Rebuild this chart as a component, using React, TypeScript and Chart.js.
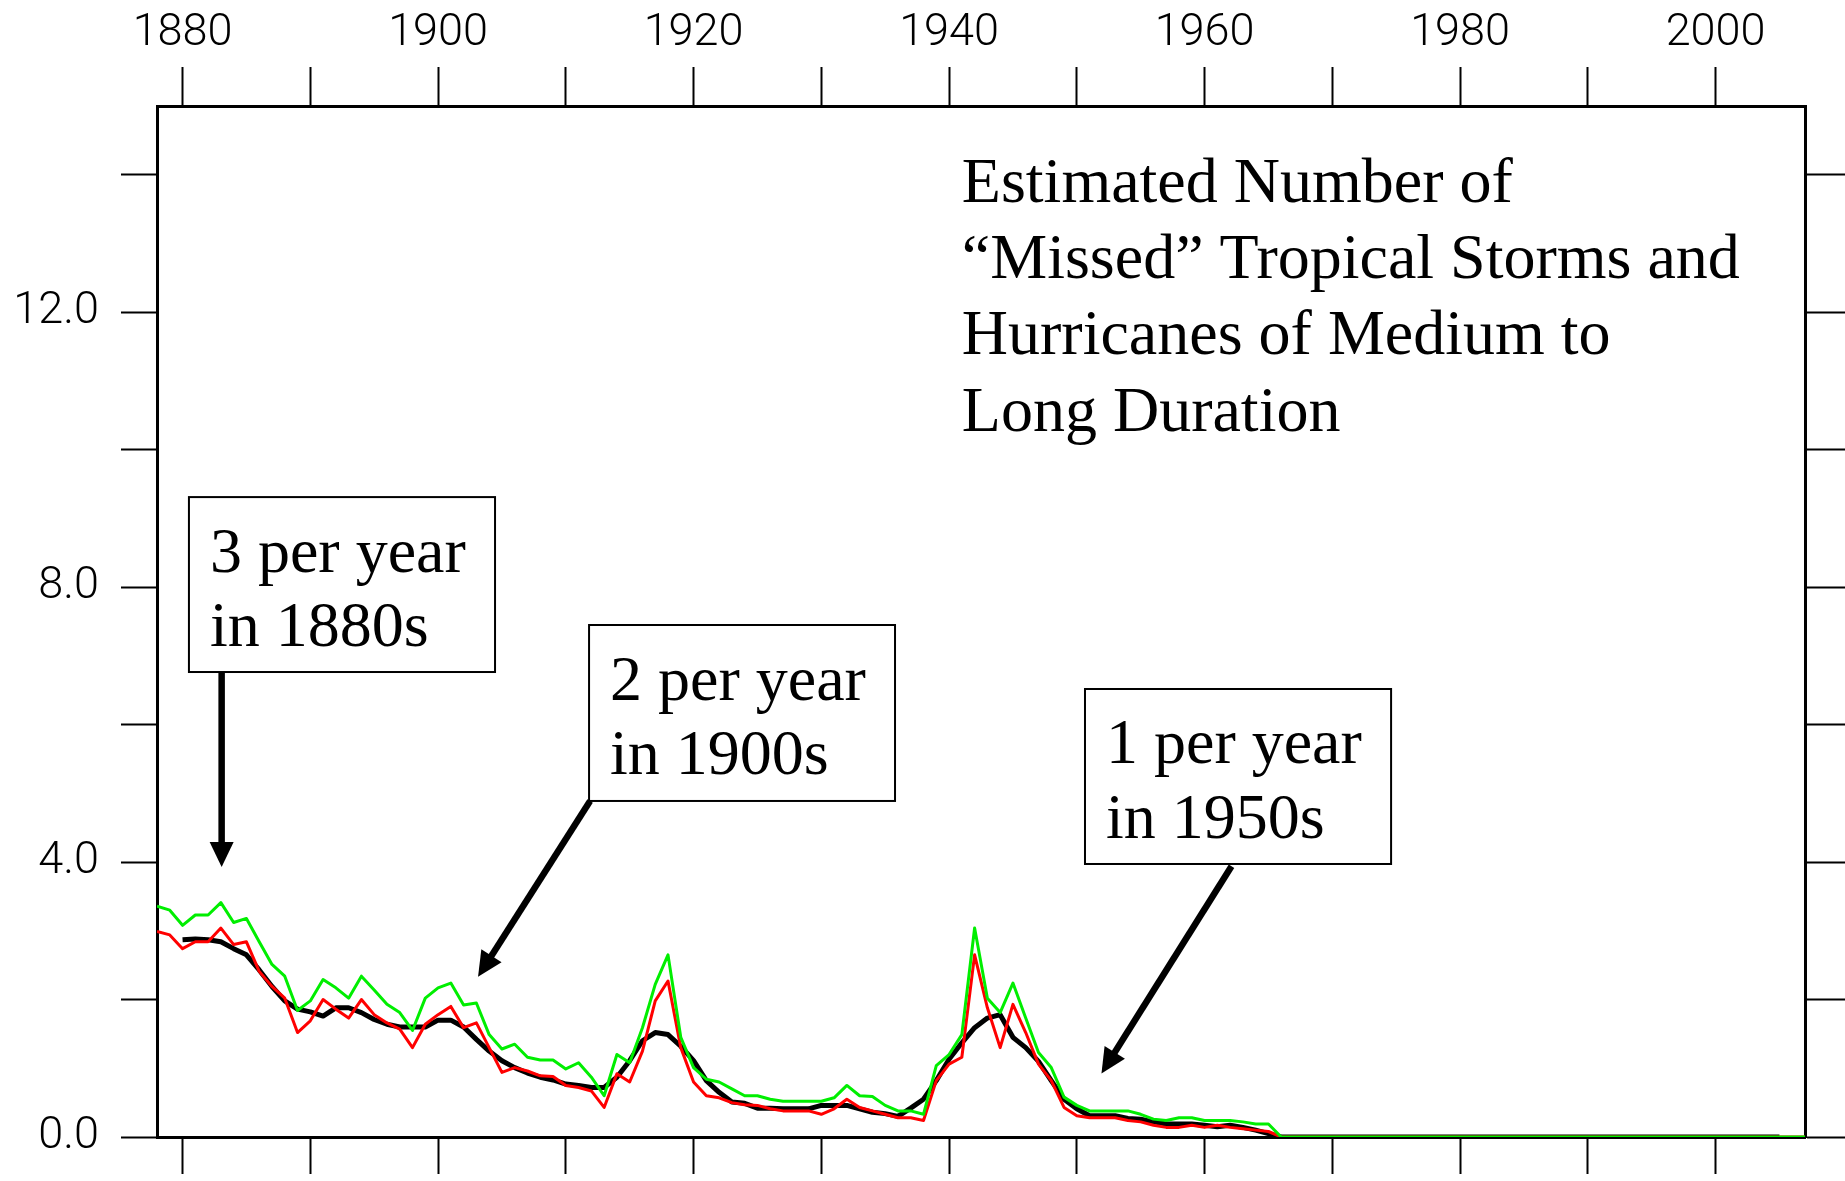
import React, { useEffect, useRef } from 'react';
import { Chart, registerables } from 'chart.js';

Chart.register(...registerables);

// ---------------- data ----------------
const START_YEAR = 1878;
const END_YEAR = 2007;
const YEARS: number[] = Array.from({ length: END_YEAR - START_YEAR + 1 }, (_, i) => START_YEAR + i);

// upper estimate (green), 1878..2007
const UPPER: number[] = [
  3.36, 3.30, 3.08, 3.23, 3.23, 3.41, 3.12, 3.18, 2.84, 2.51,
  2.34, 1.84, 1.98, 2.29, 2.17, 2.02, 2.34, 2.14, 1.93, 1.81,
  1.55, 2.02, 2.17, 2.24, 1.92, 1.95, 1.49, 1.28, 1.35, 1.16,
  1.12, 1.12, 0.99, 1.08, 0.87, 0.60, 1.20, 1.08, 1.59, 2.22,
  2.65, 1.45, 1.01, 0.84, 0.80, 0.70, 0.60, 0.60, 0.55, 0.52,
  0.52, 0.52, 0.52, 0.57, 0.75, 0.60, 0.59, 0.46, 0.38, 0.38,
  0.33, 1.04, 1.20, 1.49, 3.04, 2.02, 1.81, 2.24, 1.73, 1.23,
  1.01, 0.58, 0.46, 0.38, 0.38, 0.38, 0.38, 0.33, 0.26, 0.24,
  0.28, 0.28, 0.24, 0.24, 0.24, 0.22, 0.19, 0.19, 0, 0,
  0, 0, 0, 0, 0, 0, 0, 0, 0, 0,
  0, 0, 0, 0, 0, 0, 0, 0, 0, 0,
  0, 0, 0, 0, 0, 0, 0, 0, 0, 0,
  0, 0, 0, 0, 0, 0, 0, 0, 0, 0,
];

// lower estimate (red), 1878..2007
const LOWER: number[] = [
  2.99, 2.94, 2.74, 2.84, 2.84, 3.04, 2.80, 2.84, 2.41, 2.19,
  2.02, 1.52, 1.69, 2.00, 1.86, 1.73, 2.00, 1.78, 1.66, 1.57,
  1.30, 1.64, 1.78, 1.90, 1.59, 1.66, 1.30, 0.94, 1.01, 0.96,
  0.89, 0.88, 0.75, 0.72, 0.67, 0.43, 0.92, 0.80, 1.25, 1.98,
  2.27, 1.30, 0.80, 0.60, 0.57, 0.50, 0.47, 0.46, 0.41, 0.38,
  0.38, 0.38, 0.33, 0.41, 0.55, 0.43, 0.38, 0.33, 0.28, 0.28,
  0.24, 0.82, 1.06, 1.16, 2.65, 1.88, 1.30, 1.93, 1.52, 1.06,
  0.82, 0.43, 0.31, 0.28, 0.28, 0.28, 0.24, 0.22, 0.17, 0.14,
  0.14, 0.17, 0.14, 0.17, 0.14, 0.12, 0.10, 0.08, 0, 0,
  0, 0, 0, 0, 0, 0, 0, 0, 0, 0,
  0, 0, 0, 0, 0, 0, 0, 0, 0, 0,
  0, 0, 0, 0, 0, 0, 0, 0, 0, 0,
  0, 0, 0, 0, 0, 0, 0, 0, 0, 0,
];

// smoothed best estimate (black), 1878..2007
const SMOOTHED: (number | null)[] = [
  null, null, 2.87, 2.88, 2.87, 2.84, 2.74, 2.65, 2.43, 2.19,
  1.98, 1.86, 1.82, 1.76, 1.88, 1.88, 1.81, 1.71, 1.64, 1.60,
  1.60, 1.60, 1.70, 1.70, 1.60, 1.42, 1.25, 1.11, 1.01, 0.93,
  0.87, 0.83, 0.77, 0.75, 0.72, 0.72, 0.87, 1.11, 1.40, 1.52,
  1.49, 1.32, 1.11, 0.82, 0.65, 0.51, 0.49, 0.42, 0.42, 0.41,
  0.41, 0.41, 0.46, 0.46, 0.46, 0.41, 0.36, 0.34, 0.30, 0.42,
  0.55, 0.82, 1.13, 1.37, 1.59, 1.73, 1.78, 1.45, 1.30, 1.10,
  0.82, 0.55, 0.41, 0.31, 0.31, 0.31, 0.27, 0.26, 0.22, 0.19,
  0.19, 0.19, 0.17, 0.15, 0.17, 0.14, 0.10, 0.05, 0, 0,
  0, 0, 0, 0, 0, 0, 0, 0, 0, 0,
  0, 0, 0, 0, 0, 0, 0, 0, 0, 0,
  0, 0, 0, 0, 0, 0, 0, 0, 0, 0,
  0, 0, 0, 0, 0, 0, 0, 0, null, null,
];

const X_MIN = 1878;
const X_MAX = 2007;
const Y_MIN = 0;
const Y_MAX = 15;
const X_TICKS = [1880, 1890, 1900, 1910, 1920, 1930, 1940, 1950, 1960, 1970, 1980, 1990, 2000];
const X_TICK_LABELS = [1880, 1900, 1920, 1940, 1960, 1980, 2000];
const Y_TICKS = [0, 2, 4, 6, 8, 10, 12, 14];
const Y_TICK_LABELS = [0, 4, 8, 12];

const TITLE_LINES = [
  'Estimated Number of',
  '\u201CMissed\u201D Tropical Storms and',
  'Hurricanes of Medium to',
  'Long Duration',
];
const TITLE_ANCHOR = { x: 1941.0, y: 13.61 };

const CALLOUTS = [
  { lines: ['3 per year', 'in 1880s'], x0: 1880.5, x1: 1904.46, y0: 9.31, y1: 6.765,
    from: { x: 1883.06, y: 6.765 }, to: { x: 1883.06, y: 3.93 } },
  { lines: ['2 per year', 'in 1900s'], x0: 1911.82, x1: 1935.77, y0: 7.449, y1: 4.889,
    from: { x: 1911.9, y: 4.89 }, to: { x: 1903.13, y: 2.33 } },
  { lines: ['1 per year', 'in 1950s'], x0: 1950.64, x1: 1974.6, y0: 6.518, y1: 3.972,
    from: { x: 1962.11, y: 3.94 }, to: { x: 1951.93, y: 0.924 } },
];

const GREEN = '#00ee00';
const RED = '#ff0000';
const BLACK = '#000000';

// ---------------- plugins ----------------
function drawArrow(ctx: CanvasRenderingContext2D, x1: number, y1: number, x2: number, y2: number) {
  const ang = Math.atan2(y2 - y1, x2 - x1);
  const headLen = 25;
  const headHalf = 12;
  const bx = x2 - headLen * Math.cos(ang);
  const by = y2 - headLen * Math.sin(ang);
  ctx.beginPath();
  ctx.moveTo(x1, y1);
  ctx.lineTo(bx + 2 * Math.cos(ang), by + 2 * Math.sin(ang));
  ctx.lineWidth = 6.5;
  ctx.lineCap = 'butt';
  ctx.strokeStyle = '#000';
  ctx.stroke();
  ctx.beginPath();
  ctx.moveTo(x2, y2);
  ctx.lineTo(bx + headHalf * Math.sin(ang), by - headHalf * Math.cos(ang));
  ctx.lineTo(bx - headHalf * Math.sin(ang), by + headHalf * Math.cos(ang));
  ctx.closePath();
  ctx.fillStyle = '#000';
  ctx.fill();
}

const annotationPlugin = {
  id: 'stormAnnotations',
  afterDraw(chart: any) {
    const ctx: CanvasRenderingContext2D = chart.ctx;
    const xs = chart.scales.x;
    const ys = chart.scales.y;
    ctx.save();
    ctx.font = '64px "Liberation Serif", "Times New Roman", serif';
    ctx.textAlign = 'left';
    ctx.textBaseline = 'alphabetic';
    ctx.fillStyle = '#000';
    const tx = xs.getPixelForValue(TITLE_ANCHOR.x);
    const ty = ys.getPixelForValue(TITLE_ANCHOR.y);
    TITLE_LINES.forEach((line, i) => ctx.fillText(line, tx, ty + i * 76.4));

    CALLOUTS.forEach((c) => {
      const l = xs.getPixelForValue(c.x0);
      const r = xs.getPixelForValue(c.x1);
      const t = ys.getPixelForValue(c.y0);
      const b = ys.getPixelForValue(c.y1);
      ctx.fillStyle = '#fff';
      ctx.fillRect(l, t, r - l, b - t);
      ctx.strokeStyle = '#000';
      ctx.lineWidth = 2;
      ctx.strokeRect(l, t, r - l, b - t);
      ctx.fillStyle = '#000';
      ctx.fillText(c.lines[0], l + 21, t + 74.5);
      ctx.fillText(c.lines[1], l + 21, t + 149);
      drawArrow(
        ctx,
        xs.getPixelForValue(c.from.x), ys.getPixelForValue(c.from.y),
        xs.getPixelForValue(c.to.x), ys.getPixelForValue(c.to.y)
      );
    });
    ctx.restore();
  },
};

// fix a scale's thickness and drop label overhang padding so the plot box is exact
const fixSize = (prop: 'width' | 'height', size: number) => (s: any) => {
  s[prop] = size;
  s.paddingTop = 0;
  s.paddingBottom = 0;
  s.paddingLeft = 0;
  s.paddingRight = 0;
};

// ---------------- component ----------------
export default function App() {
  const ref = useRef<HTMLCanvasElement | null>(null);

  useEffect(() => {
    const canvas = ref.current;
    if (!canvas) return;
    const toPoints = (vals: (number | null)[]) => YEARS.map((yr, i) => ({ x: yr, y: vals[i] }));

    const tickGrid = (len: number) => ({
      drawOnChartArea: false,
      drawTicks: true,
      tickLength: len,
      tickWidth: 2,
      tickColor: '#000',
    });
    const border = { display: true, color: '#000', width: 3 };
    const labelFont = { family: 'Roboto', size: 45, weight: '300' };

    const chart = new Chart(canvas, {
      type: 'line',
      data: {
        datasets: [
          { label: 'Upper', data: toPoints(UPPER), borderColor: GREEN, borderWidth: 3, order: 0 },
          { label: 'Lower', data: toPoints(LOWER), borderColor: RED, borderWidth: 3, order: 1 },
          { label: 'Smoothed', data: toPoints(SMOOTHED), borderColor: BLACK, borderWidth: 5, order: 2 },
        ] as any,
      },
      options: {
        responsive: false,
        animation: false,
        layout: { padding: 0 },
        elements: {
          point: { radius: 0, hoverRadius: 0 },
          line: { tension: 0, borderJoinStyle: 'round', fill: false },
        },
        plugins: { legend: { display: false }, tooltip: { enabled: false }, title: { display: false } },
        events: [],
        scales: {
          x: {
            type: 'linear',
            position: 'top',
            min: X_MIN,
            max: X_MAX,
            afterBuildTicks: (s: any) => { s.ticks = X_TICKS.map((v) => ({ value: v })); },
            afterFit: fixSize('height', 106),
            ticks: {
              autoSkip: false,
              maxRotation: 0,
              minRotation: 0,
              padding: 6,
              color: '#000',
              font: labelFont,
              callback: (v: any) => (X_TICK_LABELS.includes(Number(v)) ? String(v) : ''),
            },
            grid: tickGrid(39),
            border,
          },
          x2: {
            type: 'linear',
            position: 'bottom',
            min: X_MIN,
            max: X_MAX,
            afterBuildTicks: (s: any) => { s.ticks = X_TICKS.map((v) => ({ value: v })); },
            afterFit: fixSize('height', 44),
            ticks: { display: false },
            grid: tickGrid(37),
            border,
          },
          y: {
            type: 'linear',
            position: 'left',
            min: Y_MIN,
            max: Y_MAX,
            afterBuildTicks: (s: any) => { s.ticks = Y_TICKS.map((v) => ({ value: v })); },
            afterFit: fixSize('width', 157),
            ticks: {
              autoSkip: false,
              padding: 22,
              color: '#000',
              font: labelFont,
              callback: (v: any) => (Y_TICK_LABELS.includes(Number(v)) ? Number(v).toFixed(1) : ''),
            },
            grid: tickGrid(36),
            border,
          },
          y2: {
            type: 'linear',
            position: 'right',
            min: Y_MIN,
            max: Y_MAX,
            afterBuildTicks: (s: any) => { s.ticks = Y_TICKS.map((v) => ({ value: v })); },
            afterFit: fixSize('width', 40),
            ticks: { display: false },
            grid: tickGrid(40),
            border,
          },
        },
      } as any,
      plugins: [annotationPlugin],
    });
    return () => chart.destroy();
  }, []);

  return (
    <canvas
      ref={ref}
      width={1845}
      height={1181}
      style={{ position: 'absolute', left: 0, top: 0, width: 1845, height: 1181, background: '#fff' }}
    />
  );
}
